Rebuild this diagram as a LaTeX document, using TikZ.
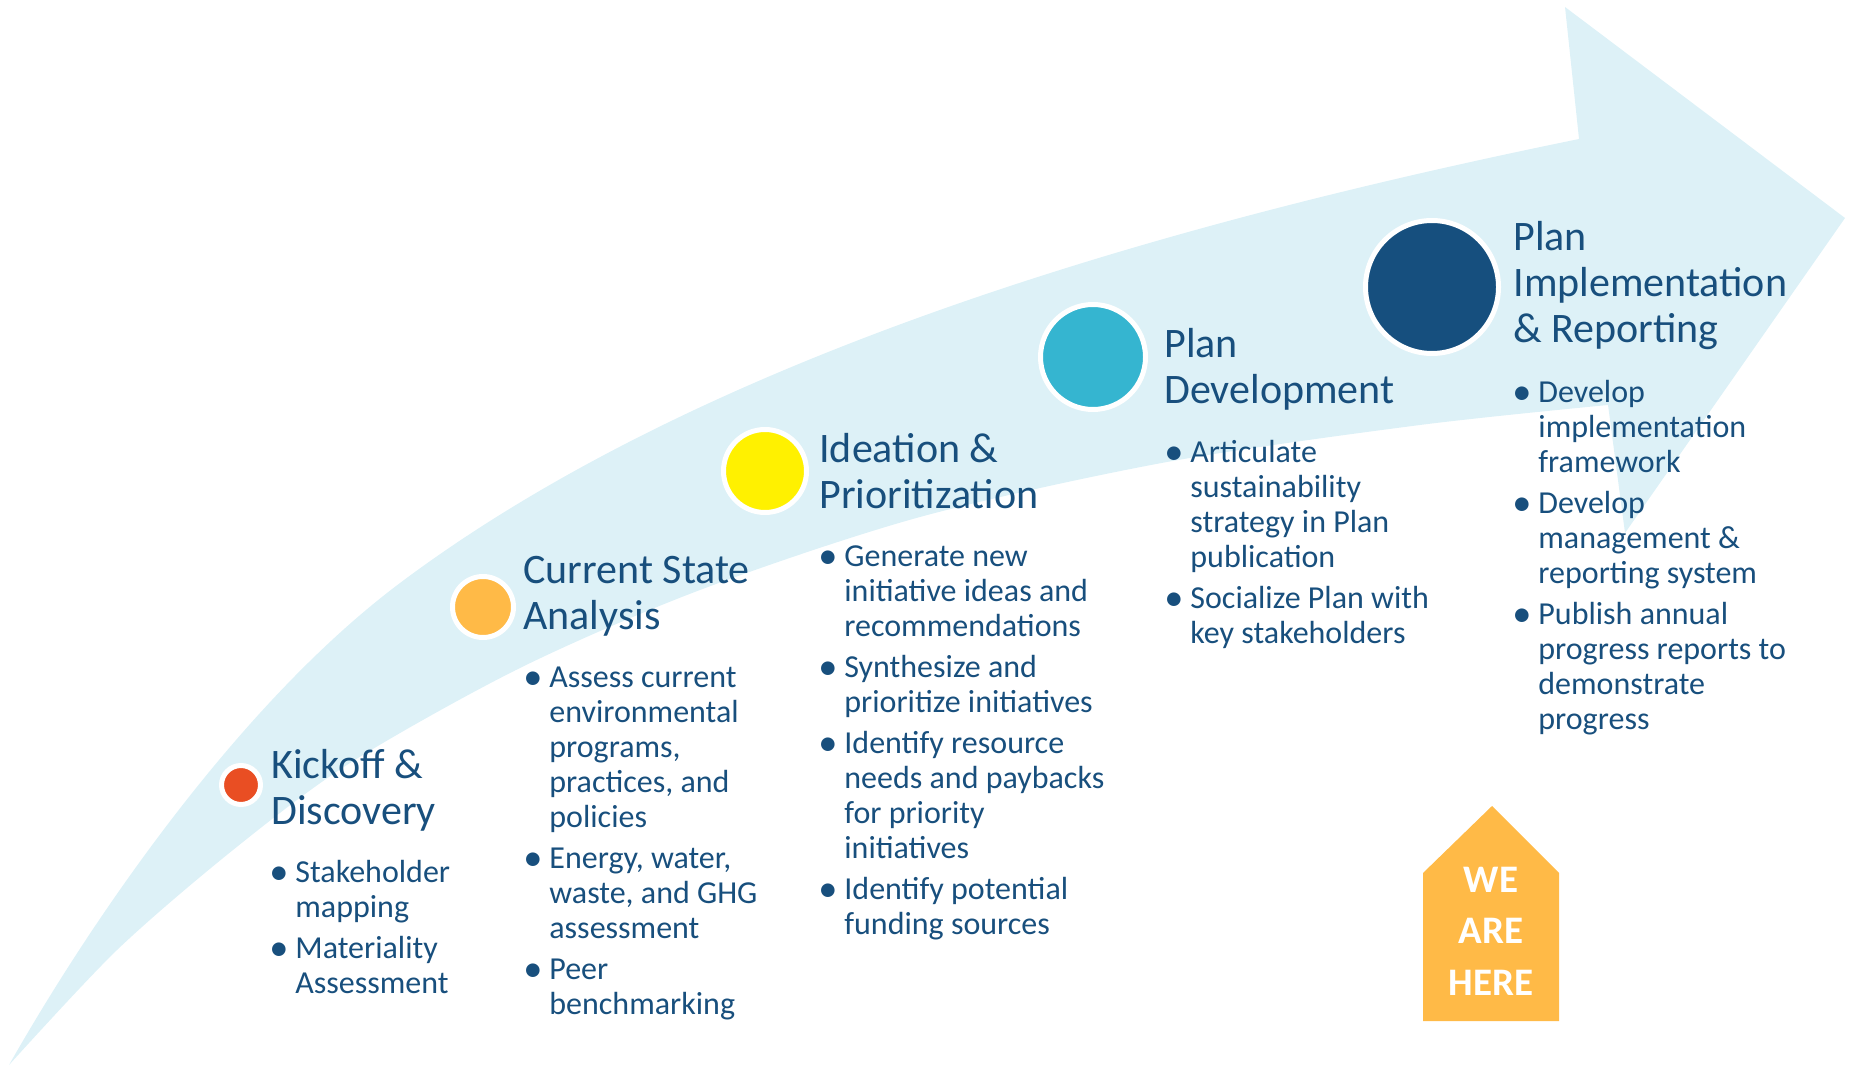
\documentclass[tikz,border=0pt]{standalone}
\usepackage{fontspec}
\usepackage{graphicx}
\setmainfont{Carlito}
\usetikzlibrary{positioning}
\definecolor{arrowblue}{RGB}{221,241,247}
\definecolor{textnavy}{RGB}{24,79,125}
\definecolor{kickred}{RGB}{233,78,35}
\definecolor{stateorange}{RGB}{255,186,71}
\definecolor{ideayellow}{RGB}{255,241,0}
\definecolor{devteal}{RGB}{53,181,208}
\definecolor{implnavy}{RGB}{22,79,126}
\newcommand\bul{\makebox[10.5pt][l]{\hspace*{-2.5pt}\raisebox{-1pt}{\scalebox{1.2}{\textbullet}}}}
\newcommand\ind{\hspace*{10.5pt}}

\begin{document}
\begin{tikzpicture}[x=0.5pt,y=-0.5pt,
  stagedot/.style={circle,fill=#1,draw=white,line width=2.5pt,inner sep=0pt},
  stagetitle/.style={anchor=base west,align=left,inner sep=0pt,text=textnavy,font=\fontsize{21pt}{23pt}\selectfont},
  stagelist/.style={anchor=base west,align=left,inner sep=0pt,text=textnavy,font=\fontsize{16pt}{17.5pt}\selectfont}]
\useasboundingbox (0,0) rectangle (1851,1069);
% the big arrow
\fill[arrowblue] (9,1065) .. controls (93,917) and (240,703) .. (400,583) .. controls (720,343) and (1207,215) .. (1579,139)
  -- (1565,7) -- (1845,218) -- (1625,533) -- (1608,405)
  -- plot[smooth,tension=0.5] coordinates {(1608,405) (1420,425) (1167,462) (920,517) (700,590) (520,668) (350,763) (233,850) (117,950) (9,1065)} -- cycle;
% stage dots
\node[stagedot=kickred,minimum size=19.5pt] (kick) at (241,785) {};
\node[stagedot=stateorange,minimum size=30.5pt] (state) at (483,607) {};
\node[stagedot=ideayellow,minimum size=41.5pt] (idea) at (765,471) {};
\node[stagedot=devteal,minimum size=52.5pt] (dev) at (1093,357) {};
\node[stagedot=implnavy,minimum size=66.5pt] (impl) at (1432,287) {};
% titles (base = last line)
\node[stagetitle] (kick-title) at (271,824) {Kickoff \&\\Discovery};
\node[stagetitle] (state-title) at (523,629) {Current State\\Analysis};
\node[stagetitle] (idea-title) at (819,508) {Ideation \&\\Prioritization};
\node[stagetitle] (dev-title) at (1164,403) {Plan\\Development};
\node[stagetitle] (impl-title) at (1513,343) {Plan\\Implementation\\\& Reporting};
% bullet lists
\node[stagelist] (kick-list) at (274,993) {\bul Stakeholder\\\ind mapping\\[3pt]\bul Materiality\\\ind Assessment};
\node[stagelist] (state-list) at (528,1014) {\bul Assess current\\\ind environmental\\\ind programs,\\\ind practices, and\\\ind policies\\[3pt]\bul Energy, water,\\\ind waste, and GHG\\\ind assessment\\[3pt]\bul Peer\\\ind benchmarking};
\node[stagelist] (idea-list) at (823,934) {\bul Generate new\\\ind initiative ideas and\\\ind recommendations\\[3pt]\bul Synthesize and\\\ind prioritize initiatives\\[3pt]\bul Identify resource\\\ind needs and paybacks\\\ind for priority\\\ind initiatives\\[3pt]\bul Identify potential\\\ind funding sources};
\node[stagelist] (dev-list) at (1169,643) {\bul Articulate\\\ind sustainability\\\ind strategy in Plan\\\ind publication\\[3pt]\bul Socialize Plan with\\\ind key stakeholders};
\node[stagelist] (impl-list) at (1517,729) {\bul Develop\\\ind implementation\\\ind framework\\[3pt]\bul Develop\\\ind management \&\\\ind reporting system\\[3pt]\bul Publish annual\\\ind progress reports to\\\ind demonstrate\\\ind progress};
% we are here
\fill[stateorange] (1423,1021) -- (1423,873) -- (1492,806) -- (1559,873) -- (1559,1021) -- cycle;
\node[anchor=base,align=center,inner sep=0pt,text=white,font=\bfseries\fontsize{19.5pt}{25.75pt}\selectfont] (here) at (1491,995) {WE\\ARE\\HERE};
\end{tikzpicture}
\end{document}
